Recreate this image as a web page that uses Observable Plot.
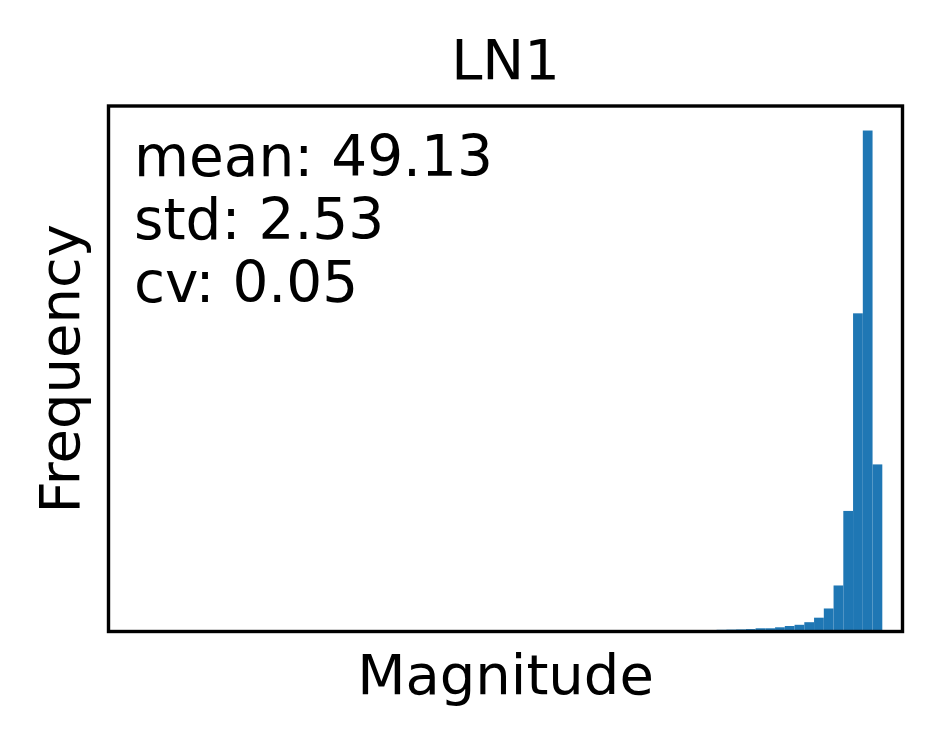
<!DOCTYPE html>
<html>
<head>
<meta charset="utf-8">
<script src="https://cdn.jsdelivr.net/npm/d3@7"></script>
<script src="https://cdn.jsdelivr.net/npm/@observablehq/plot@0.6"></script>
<style>
  html, body { margin: 0; padding: 0; background: #fff; }
  #chart svg { display: block; }
</style>
</head>
<body>
<div id="chart"></div>
<script>
// Histogram bins (left edges, magnitude units) and counts
const binStarts = [42.5, 43.0, 43.5, 44.0, 44.5, 45.0, 45.5, 46.0, 46.5, 47.0, 47.5, 48.0, 48.5, 49.0, 49.5, 50.0, 50.5];
const counts    = [12,   14,   16,   19,   27,   27,   37,   50,   62,   88,   133,  225,  455,  1200, 3175, 5002, 1665];
const binWidth = 0.5;
const xDomain = [11.29, 52.01];
const titleText = "LN1";
const xLabel = "Magnitude";
const yLabel = "Frequency";
const statLines = ["mean: 49.13", "std: 2.53", "cv: 0.05"];

const bins = binStarts.map((s, i) => ({x1: s, x2: s + binWidth, count: counts[i]}));
const yMax = d3.max(counts) * 1.05;

const font = "DejaVu Sans, sans-serif";
const fs = 56;

const chart = Plot.plot({
  width: 936,
  height: 740,
  marginLeft: 108,
  marginRight: 34,
  marginTop: 105.5,
  marginBottom: 109,
  style: {background: "#fff", fontFamily: font, color: "#000"},
  x: {domain: xDomain, axis: null},
  y: {domain: [0, yMax], axis: null},
  marks: [
    Plot.rectY(bins, {x1: "x1", x2: "x2", y: "count", fill: "#1f77b4", inset: 0}),
    Plot.frame({stroke: "#000", strokeWidth: 3.4}),
    Plot.text([statLines.join("\n")], {
      frameAnchor: "top-left", dx: 25.5, dy: 196.2,
      lineAnchor: "bottom", lineHeight: 1.12, textAnchor: "start",
      fontSize: 56.5, fontFamily: font, fill: "#000"
    }),
    Plot.text([titleText], {
      frameAnchor: "top", dy: -27.2, lineAnchor: "bottom",
      fontSize: fs, fontFamily: font, fill: "#000"
    }),
    Plot.text([xLabel], {
      frameAnchor: "bottom", dy: 62.3, lineAnchor: "bottom",
      fontSize: fs, fontFamily: font, fill: "#000"
    }),
    Plot.text([yLabel], {
      frameAnchor: "left", dx: -29.7, rotate: -90, lineAnchor: "bottom", textAnchor: "middle",
      fontSize: fs, fontFamily: font, fill: "#000"
    })
  ]
});
document.getElementById("chart").appendChild(chart);
</script>
</body>
</html>
